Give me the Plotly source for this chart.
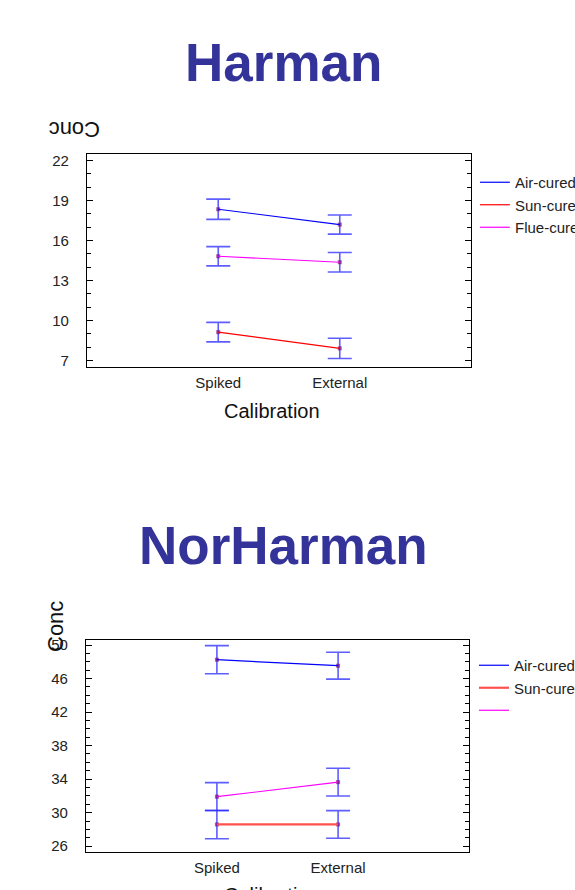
import plotly.graph_objects as go

W, H = 575, 890

categories = ["Spiked", "External"]
series_names_1 = ["Air-cured", "Sun-cured", "Flue-cured"]
series_names_2 = ["Air-cured", "Sun-cured", ""]
line_colors = ["#0000ff", "#ff0000", "#ff00ff"]

# Harman (panel 1)
harman_air = [18.35, 17.2]
harman_air_err = [0.76, 0.72]
harman_sun = [9.12, 7.9]
harman_sun_err = [0.73, 0.76]
harman_flue = [14.82, 14.37]
harman_flue_err = [0.72, 0.73]

# NorHarman (panel 2)
norharman_air = [48.25, 47.53]
norharman_air_err = [1.68, 1.6]
norharman_sun = [28.59, 28.59]
norharman_sun_err = [1.7, 1.65]
norharman_flue = [31.9, 33.64]
norharman_flue_err = [1.68, 1.65]

harman_ticks = [7, 10, 13, 16, 19, 22]
norharman_ticks = [26, 30, 34, 38, 42, 46, 50]

FONT = "Liberation Sans, Arial, sans-serif"
TITLE_COLOR = "#333399"

fig = go.Figure()


def px_x(p):
    return p / W


def px_y(p):
    return 1 - p / H


panels = [
    dict(xa="x", ya="y", legend="legend", names=series_names_1,
         vals=[harman_air, harman_sun, harman_flue],
         errs=[harman_air_err, harman_sun_err, harman_flue_err],
         widths=[1.2, 1.2, 1.2]),
    dict(xa="x2", ya="y2", legend="legend2", names=series_names_2,
         vals=[norharman_air, norharman_sun, norharman_flue],
         errs=[norharman_air_err, norharman_sun_err, norharman_flue_err],
         widths=[1.2, 2.2, 1.2]),
]

for p in panels:
    # error bars + markers (not in legend)
    for i in range(3):
        fig.add_trace(go.Scatter(
            x=categories, y=p["vals"][i], mode="markers",
            marker=dict(symbol="square", size=4, color="rgba(120,0,110,0.65)",
                        line=dict(width=0)),
            error_y=dict(type="data", array=p["errs"][i], visible=True,
                         color="rgba(40,40,255,0.75)", thickness=1.6, width=12),
            xaxis=p["xa"], yaxis=p["ya"], showlegend=False, hoverinfo="skip",
        ))
    # connecting lines (in legend)
    for i in range(3):
        col = line_colors[i]
        if p["legend"] == "legend2" and i == 1:
            col = "#ff5050"
        fig.add_trace(go.Scatter(
            x=categories, y=p["vals"][i], name=p["names"][i], mode="lines",
            line=dict(color=col, width=p["widths"][i]),
            xaxis=p["xa"], yaxis=p["ya"], legend=p["legend"], showlegend=True,
        ))

common_y = dict(
    showline=True, linecolor="black", linewidth=1.3, mirror="ticks",
    ticks="inside", ticklen=6, tickcolor="black", tickwidth=1.3,
    showgrid=False, zeroline=False,
    tickfont=dict(family=FONT, size=15, color="#222"),
    ticklabelstandoff=14,
)
common_x = dict(
    showline=True, linecolor="black", linewidth=1.3, mirror=True,
    ticks="", showgrid=False, zeroline=False,
    tickfont=dict(family=FONT, size=15, color="#222"),
    range=[-1.08, 2.08], ticklabelstandoff=2,
)
minor = dict(dtick=1, ticks="inside", ticklen=4, tickcolor="black", tickwidth=1.2)
legend_font = dict(family=FONT, size=15, color="#222")

fig.update_layout(
    width=W, height=H,
    margin=dict(l=0, r=0, t=0, b=0, autoexpand=False),
    paper_bgcolor="white", plot_bgcolor="white",
    font=dict(family=FONT),
    xaxis=dict(domain=[px_x(87), px_x(471)], anchor="y", **common_x),
    yaxis=dict(domain=[px_y(367), px_y(154)], anchor="x", range=[6.5, 22.5],
               tickvals=harman_ticks, minor=minor, **common_y),
    xaxis2=dict(domain=[px_x(86), px_x(469)], anchor="y2", **common_x),
    yaxis2=dict(domain=[px_y(852), px_y(640)], anchor="x2", range=[25.3, 50.6],
                tickvals=norharman_ticks, minor=minor, **common_y),
    legend=dict(x=px_x(475), y=px_y(166), xanchor="left", yanchor="top",
                bgcolor="rgba(0,0,0,0)", font=legend_font,
                itemwidth=30, tracegroupgap=0),
    legend2=dict(x=px_x(474), y=px_y(649), xanchor="left", yanchor="top",
                 bgcolor="rgba(0,0,0,0)", font=legend_font,
                 itemwidth=30, tracegroupgap=0),
    annotations=[
        dict(text="<b>Harman</b>", x=px_x(283), y=px_y(62), xref="paper", yref="paper",
             showarrow=False, font=dict(family=FONT, size=53, color=TITLE_COLOR),
             xanchor="center", yanchor="middle"),
        dict(text="<b>NorHarman</b>", x=px_x(283), y=px_y(545), xref="paper", yref="paper",
             showarrow=False, font=dict(family=FONT, size=53, color=TITLE_COLOR),
             xanchor="center", yanchor="middle"),
        dict(text="Conc", x=px_x(75), y=px_y(129), xref="paper", yref="paper",
             showarrow=False, textangle=180, font=dict(family=FONT, size=22, color="#111"),
             xanchor="center", yanchor="middle"),
        dict(text="Conc", x=px_x(55), y=px_y(627), xref="paper", yref="paper",
             showarrow=False, textangle=-90, font=dict(family=FONT, size=22, color="#111"),
             xanchor="center", yanchor="middle"),
        dict(text="Calibration", x=px_x(272), y=px_y(411), xref="paper", yref="paper",
             showarrow=False, font=dict(family=FONT, size=20, color="#111"),
             xanchor="center", yanchor="middle"),
        dict(text="Calibration", x=px_x(272), y=px_y(895), xref="paper", yref="paper",
             showarrow=False, font=dict(family=FONT, size=20, color="#111"),
             xanchor="center", yanchor="middle"),
    ],
)

fig.write_html(
    "out.html",
    config={"displayModeBar": False},
    post_script="document.body.style.margin='0';document.body.style.overflow='hidden';",
)
